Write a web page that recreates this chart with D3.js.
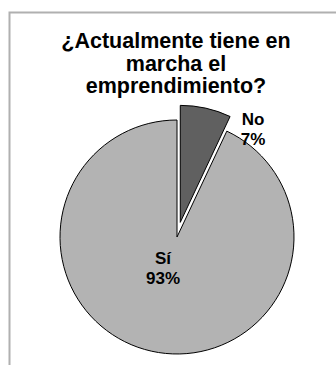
<!DOCTYPE html>
<html>
<head>
<meta charset="utf-8">
<script src="https://cdn.jsdelivr.net/npm/d3@7"></script>
<style>
  body { margin: 0; background: #fff; }
  text { font-family: "Liberation Sans", Arial, sans-serif; font-weight: bold; fill: #000; }
</style>
</head>
<body>
<svg id="chart" width="336" height="365"></svg>
<script>
var categories = ['No', 'Sí'];
var values = [7, 93];
var colors = ['#606060', '#b3b3b3'];
var titleLines = ['¿Actualmente tiene en', 'marcha el', 'emprendimiento?'];

var svg = d3.select("#chart"),
    width = +svg.attr("width"),
    height = +svg.attr("height");

// chart area frame (only left and top edges visible)
svg.append("rect")
    .attr("x", 9.5).attr("y", 12.5)
    .attr("width", 400).attr("height", 400)
    .attr("fill", "none")
    .attr("stroke", "#b0b0b0")
    .attr("stroke-width", 2);

svg.append("g")
    .selectAll("text")
    .data(titleLines)
    .enter().append("text")
    .attr("x", 176)
    .attr("y", function(d, i) { return 48 + i * 22.5; })
    .attr("text-anchor", "middle")
    .attr("font-size", 21.5)
    .text(function(d) { return d; });

var cx = 177, cy = 237, r = 117;
var data = categories.map(function(c, i) { return { name: c, value: values[i], color: colors[i] }; });

var pie = d3.pie().sort(null).value(function(d) { return d.value; });
var arc = d3.arc().innerRadius(0).outerRadius(r);
var arcs = pie(data);

var g = svg.append("g").attr("transform", "translate(" + cx + "," + cy + ")");

g.selectAll("path")
    .data(arcs)
    .enter().append("path")
    .attr("transform", function(d, i) {
        if (i != 0) return null;
        var a = (d.startAngle + d.endAngle) / 2, off = 15;
        return "translate(" + (Math.sin(a) * off) + "," + (-Math.cos(a) * off) + ")";
    })
    .attr("d", arc)
    .attr("fill", function(d) { return d.data.color; })
    .attr("stroke", "#000")
    .attr("stroke-width", 1)
    .attr("stroke-linejoin", "round");

// labels
var labelPos = [[76, -112], [-14, 27]];
var labels = g.selectAll("text.lbl")
    .data(arcs)
    .enter().append("text")
    .attr("class", "lbl")
    .attr("text-anchor", "middle")
    .attr("font-size", 17)
    .attr("transform", function(d, i) { return "translate(" + labelPos[i][0] + "," + labelPos[i][1] + ")"; });
labels.append("tspan").attr("x", 0).attr("y", 0).text(function(d) { return d.data.name; });
labels.append("tspan").attr("x", 0).attr("y", 20).text(function(d) { return d.data.value + "%"; });
</script>
</body>
</html>
